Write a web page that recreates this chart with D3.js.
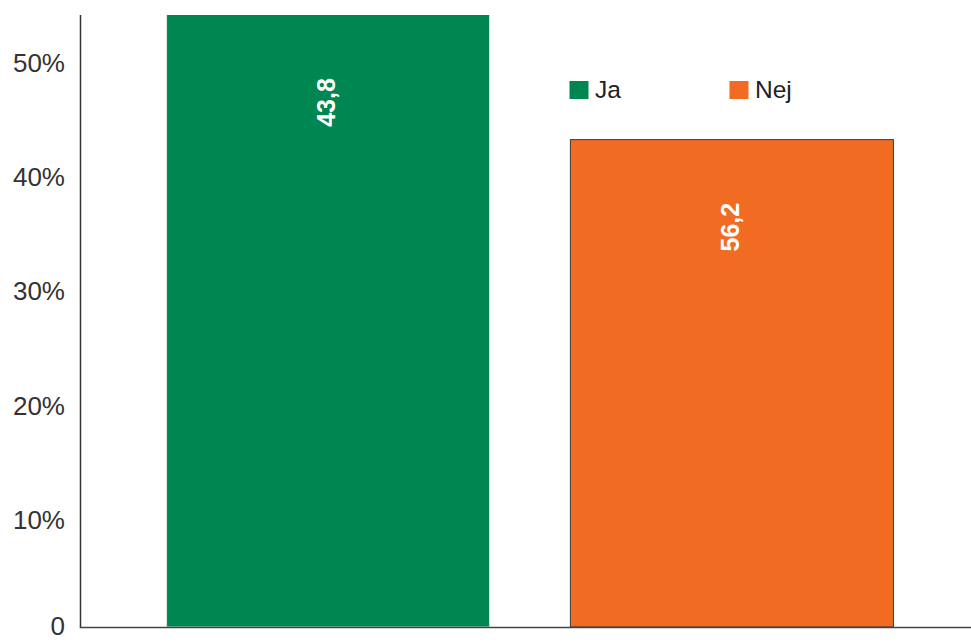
<!DOCTYPE html>
<html>
<head>
<meta charset="utf-8">
<script src="https://cdn.jsdelivr.net/npm/d3@7"></script>
<style>
  html, body { margin: 0; padding: 0; background: #fff; }
  svg { display: block; }
  text { font-family: "Liberation Sans", Arial, Helvetica, sans-serif; }
</style>
</head>
<body>
<svg id="chart" width="971" height="642"></svg>
<script>
// Survey answers: share of respondents (%)
const categories = ["Ja", "Nej"];
const barValues = [56.2, 43.8];
const barLabels = ["43,8", "56,2"];
const barColors = ["#008651", "#f26b22"];
const tickValues = [0, 10, 20, 30, 40, 50];
const tickLabels = ["0", "10%", "20%", "30%", "40%", "50%"];

const W = 971, H = 642;
const svg = d3.select("#chart");

// Plot frame
const plotTop = 15, plotBottom = 627, axisX = 80.5;

const x = d3.scaleBand()
  .domain(categories)
  .range([85.8, 974.2])
  .paddingInner(0.2)
  .paddingOuter(0.2);

// Bars use a 0–55 % range; anything taller is cut at the frame top
const y = d3.scaleLinear().domain([0, 55]).range([plotBottom, plotTop]);

// Tick label positions of the value axis
const yTicks = d3.scaleLinear().domain([0, 50]).range([633.7, 62.5]);

svg.append("defs").append("clipPath").attr("id", "plotClip")
  .append("rect").attr("x", 0).attr("y", plotTop).attr("width", W).attr("height", plotBottom - plotTop + 2);

const bars = svg.append("g").attr("clip-path", "url(#plotClip)");
bars.selectAll("rect")
  .data(categories)
  .join("rect")
  .attr("x", d => x(d))
  .attr("y", (d, i) => y(barValues[i]))
  .attr("width", x.bandwidth())
  .attr("height", (d, i) => plotBottom - y(barValues[i]))
  .attr("fill", (d, i) => barColors[i])
  .attr("stroke", (d, i) => i === 0 ? "#d9e9df" : "#3b3b3b")
  .attr("stroke-width", 1);

// Value labels, rotated inside the top of each bar
svg.selectAll("text.val")
  .data(categories)
  .join("text")
  .attr("class", "val")
  .attr("transform", (d, i) => {
    const top = Math.max(y(barValues[i]), plotTop);
    return `translate(${x(d) + x.bandwidth() / 2 - 2},${top + 87.5}) rotate(-90)`;
  })
  .attr("text-anchor", "middle")
  .attr("dominant-baseline", "central")
  .attr("fill", "#fff")
  .attr("font-weight", "bold")
  .attr("font-size", 25)
  .text((d, i) => barLabels[i]);

// Axis lines
svg.append("line")
  .attr("x1", axisX).attr("x2", axisX)
  .attr("y1", plotTop).attr("y2", plotBottom + 0.5)
  .attr("stroke", "#333").attr("stroke-width", 1.5);
svg.append("line")
  .attr("x1", axisX - 0.75).attr("x2", W)
  .attr("y1", plotBottom + 0.5).attr("y2", plotBottom + 0.5)
  .attr("stroke", "#444").attr("stroke-width", 1.5);

// Value axis labels
const yAxis = d3.axisLeft(yTicks)
  .tickValues(tickValues)
  .tickSize(0)
  .tickPadding(0)
  .tickFormat((d, i) => tickLabels[i]);
const gy = svg.append("g").attr("transform", "translate(65,0)").call(yAxis);
gy.select(".domain").remove();
gy.selectAll("text")
  .attr("dy", d => d === 0 ? -8 : null)
  .attr("dominant-baseline", "central")
  .attr("fill", "#333")
  .attr("font-size", 26)
  .style("font-family", '"Liberation Sans", Arial, sans-serif');

// Legend
const legendX = [569.5, 729.5];
const legend = svg.append("g");
const items = legend.selectAll("g")
  .data(categories)
  .join("g")
  .attr("transform", (d, i) => `translate(${legendX[i]},81)`);
items.append("rect")
  .attr("width", 19).attr("height", 18)
  .attr("fill", (d, i) => barColors[i]);
items.append("text")
  .attr("x", 25.5).attr("y", 17.3)
  .attr("font-size", 24.5)
  .attr("fill", "#222")
  .text(d => d);
</script>
</body>
</html>
